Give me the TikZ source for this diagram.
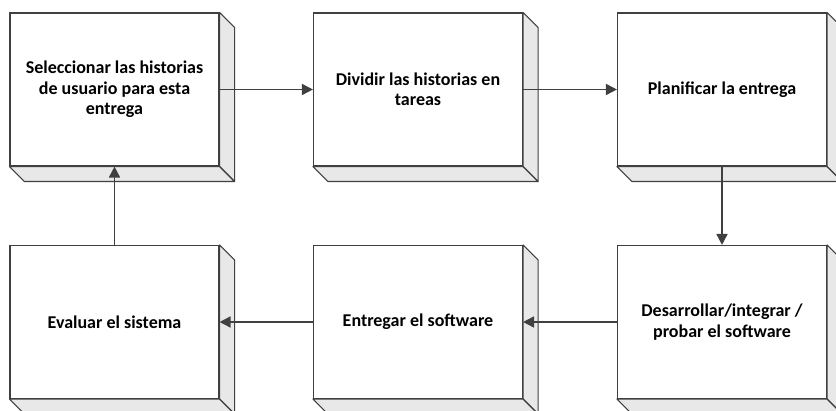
\documentclass[tikz,border=0pt]{standalone}
\usepackage{fontspec}
\setmainfont{Carlito}
\usetikzlibrary{arrows.meta}
\definecolor{ln}{HTML}{404040}
\definecolor{sidec}{HTML}{E8E8E8}
\newcommand\tdbox[3]{%
  \node[box] (#1) at (#2) {#3};
  \draw[sidef] (#1.north east) -- ++(15,15) -- ([shift={(15,15)}]#1.south east) -- (#1.south east) -- cycle;
  \draw[sidef] (#1.south west) -- ++(15,15) -- ([shift={(15,15)}]#1.south east) -- (#1.south east) -- cycle;
}
\begin{document}
\begin{tikzpicture}[x=1pt,y=-1pt,
  box/.style={draw=ln, line width=1.1pt, fill=white, minimum width=209pt, minimum height=153pt,
    inner sep=0pt, align=center, font=\fontsize{18}{20.5}\selectfont\bfseries},
  sidef/.style={draw=ln, line width=1.1pt, fill=sidec, line join=round},
  conn/.style={draw=ln, line width=1.6pt, -{Triangle[length=11pt,width=11pt]}}]
\useasboundingbox (0,0) rectangle (836,411);
\tdbox{s1}{114.5,89.5}{Seleccionar las historias\\de usuario para esta\\entrega}
\tdbox{s2}{418,89.5}{Dividir las historias en\\tareas}
\tdbox{s3}{722,89.5}{Planificar la entrega}
\tdbox{s4}{722,322}{Desarrollar/integrar /\\probar el software}
\tdbox{s5}{418,322}{Entregar el software}
\tdbox{s6}{114.5,322}{Evaluar el sistema}
\draw[conn] (s1) -- (s2);
\draw[conn] (s2) -- (s3);
\draw[conn] (s3.south) -- (s4.north);
\draw[conn] (s4) -- (s5);
\draw[conn] (s5) -- (s6);
\draw[conn] (s6.north) -- (s1.south);
\end{tikzpicture}
\end{document}
